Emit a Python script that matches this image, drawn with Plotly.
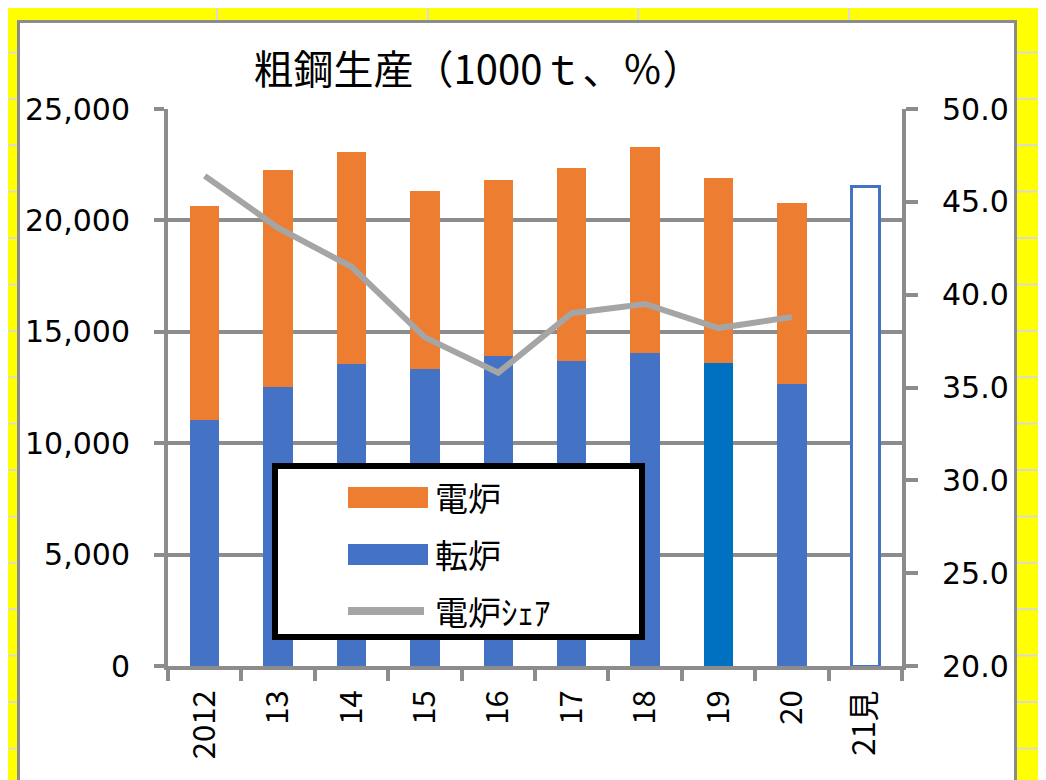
import plotly.graph_objects as go

# data
years = ["2012", "13", "14", "15", "16", "17", "18", "19", "20", "21見"]
converter = [11040, 12540, 13570, 13340, 13930, 13700, 14030, 13590, 12660]   # 転炉
electric = [9610, 9720, 9500, 7990, 7870, 8670, 9280, 8330, 8110]             # 電炉
eaf_share = [46.4, 43.6, 41.5, 37.7, 35.8, 39.0, 39.5, 38.2, 38.8]            # 電炉シェア (%)
forecast_year = ["21見"]
forecast_total = [21500]

names = ["電炉", "転炉", "電炉ｼｪｱ"]
colors = ["#ed7d31", "#4472c4", "#a5a5a5"]
conv_colors = ["#4472c4"] * 7 + ["#0070c0"] + ["#4472c4"]

W, H = 1046, 780
OFF = 8  # page body margin: figure starts 8px in
L, T = 168 - OFF, 109 - OFF
PW, PH = 734, 557
R, B = W - L - PW, H - T - PH
GRAY = "#8c8c8c"
FONT_JP = "Noto Sans CJK JP"


# page pixel -> paper coordinates
def xp(px):
    return (px - OFF - L) / PW


def yp(py):
    return (T + PH - (py - OFF)) / PH


fig = go.Figure()

fig.add_trace(go.Bar(x=years[:9], y=converter, name=names[1], width=0.4,
                     marker=dict(color=conv_colors, line=dict(width=0)), showlegend=False))
fig.add_trace(go.Bar(x=years[:9], y=electric, name=names[0], width=0.4,
                     marker=dict(color=colors[0], line=dict(width=0)), showlegend=False))
fig.add_trace(go.Bar(x=forecast_year, y=forecast_total, name="見込", width=0.38,
                     marker=dict(color="white", line=dict(color="#4472c4", width=3)),
                     showlegend=False))
fig.add_trace(go.Scatter(x=years[:9], y=eaf_share, name=names[2], yaxis="y2",
                         mode="lines", line=dict(color=colors[2], width=6),
                         showlegend=False))

shapes = []
# spreadsheet background: cell lines
for k in range(1, 17):
    y = 6 + 46.4 * k
    shapes.append(dict(type="line", xref="paper", yref="paper", x0=xp(0), x1=xp(W + 20),
                       y0=yp(y), y1=yp(y), line=dict(color="#d9d9d9", width=2), layer="below"))
for x in [217, 427.7, 638.3, 849]:
    shapes.append(dict(type="line", xref="paper", yref="paper", x0=xp(x), x1=xp(x),
                       y0=yp(0), y1=yp(H + 20), line=dict(color="#d9d9d9", width=2), layer="below"))
# white chart area
shapes.append(dict(type="rect", xref="paper", yref="paper", x0=xp(18.5), x1=xp(1015.5),
                   y0=yp(21.5), y1=yp(H + 30), fillcolor="white",
                   line=dict(color=GRAY, width=3), layer="below"))

# legend box
shapes.append(dict(type="rect", xref="paper", yref="paper", x0=xp(275), x1=xp(642),
                   y0=yp(466), y1=yp(637), fillcolor="white",
                   line=dict(color="black", width=6), layer="above"))
shapes.append(dict(type="rect", xref="paper", yref="paper", x0=xp(348), x1=xp(428),
                   y0=yp(487), y1=yp(508), fillcolor=colors[0], line_width=0, layer="above"))
shapes.append(dict(type="rect", xref="paper", yref="paper", x0=xp(348), x1=xp(428),
                   y0=yp(544), y1=yp(565), fillcolor=colors[1], line_width=0, layer="above"))
shapes.append(dict(type="line", xref="paper", yref="paper", x0=xp(348), x1=xp(424),
                   y0=yp(611), y1=yp(611), line=dict(color=colors[2], width=8), layer="above"))

annotations = []
for name, y in zip(names, [497, 554, 611]):
    annotations.append(dict(text=name, xref="paper", yref="paper", x=xp(433), y=yp(y),
                            xanchor="left", yanchor="middle", showarrow=False,
                            font=dict(family=FONT_JP, size=33, color="black")))

fig.update_layout(
    width=W, height=H,
    margin=dict(l=L, r=R, t=T, b=B),
    paper_bgcolor="#ffff00",
    plot_bgcolor="rgba(0,0,0,0)",
    barmode="stack",
    title=dict(text="粗鋼生産（1000ｔ、％）", x=(478 - OFF) / W, xanchor="center",
               y=1 - (70 - OFF) / H, yanchor="middle",
               font=dict(family=FONT_JP, size=40, color="black")),
    xaxis=dict(type="category", categoryorder="array", categoryarray=years,
               tickson="boundaries", ticks="outside", ticklen=11, tickwidth=4,
               tickcolor=GRAY, showline=True, linecolor=GRAY, linewidth=4,
               showgrid=False, tickangle=-90, ticklabelstandoff=8,
               tickfont=dict(family=FONT_JP, size=31, color="black")),
    yaxis=dict(range=[0, 25000], dtick=5000, tickformat=",", showgrid=True,
               gridcolor=GRAY, gridwidth=4, zeroline=False, showline=True,
               linecolor=GRAY, linewidth=4, ticks="outside", ticklen=10,
               tickwidth=4, tickcolor=GRAY, ticklabelstandoff=18,
               tickfont=dict(family="DejaVu Sans", size=30, color="black")),
    yaxis2=dict(range=[20, 50], dtick=5, tickformat=".1f", overlaying="y",
                side="right", showgrid=False, zeroline=False, showline=True,
                linecolor=GRAY, linewidth=4, ticks="outside", ticklen=12,
                tickwidth=4, tickcolor=GRAY, ticklabelstandoff=18,
                tickfont=dict(family="DejaVu Sans", size=30, color="black")),
    shapes=shapes,
    annotations=annotations,
    showlegend=False,
)

fig.write_html("out.html")
